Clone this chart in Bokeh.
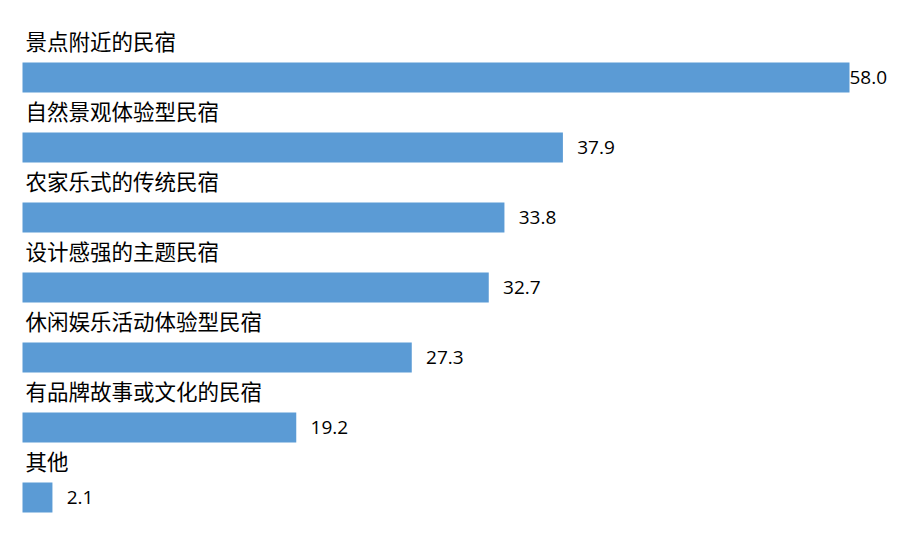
from bokeh.plotting import figure
from bokeh.models import Range1d, ColumnDataSource
from bokeh.core.properties import value
from bokeh.embed import file_html
from bokeh.resources import INLINE

categories = ["景点附近的民宿", "自然景观体验型民宿", "农家乐式的传统民宿", "设计感强的主题民宿",
              "休闲娱乐活动体验型民宿", "有品牌故事或文化的民宿", "其他"]
values = [58.0, 37.9, 33.8, 32.7, 27.3, 19.2, 2.1]
value_labels = ["58.0", "37.9", "33.8", "32.7", "27.3", "19.2", "2.1"]

pos = list(range(len(categories)))
xmax = max(values)
label_x = [min(v + 1.0, xmax) for v in values]

src = ColumnDataSource(dict(y=pos, v=values, cat=categories, lab=value_labels,
                            lx=label_x, zero=[0] * len(pos)))

W, H = 900, 534
px_per_unit = 827 / 58.0
x0 = -22 / px_per_unit
x1 = (W - 22) / px_per_unit
y_top = (0 - 77) / 70.0
y_bot = (H - 77) / 70.0

p = figure(width=W, height=H, output_backend="svg", toolbar_location=None,
           x_range=Range1d(x0, x1), y_range=Range1d(y_bot, y_top),
           min_border=0, min_border_left=0, min_border_right=0,
           min_border_top=0, min_border_bottom=0)
p.axis.visible = False
p.grid.visible = False
p.outline_line_color = None
p.background_fill_color = "white"
p.border_fill_color = "white"

p.hbar(y="y", left="zero", right="v", height=30 / 70.0, source=src,
       fill_color="#5B9BD5", line_color=None)

p.text(x="zero", y="y", text="cat", source=src, x_offset=3, y_offset=-37,
       text_font=value("Noto Sans CJK SC"), text_font_size="21.5px",
       text_baseline="middle", text_align="left", text_color="#000000")

p.text(x="lx", y="y", text="lab", source=src, x_offset=0, y_offset=0,
       text_font=value("Open Sans"), text_font_size="19px",
       text_baseline="middle", text_align="left", text_color="#000000")

open("out.html", "w").write(file_html(p, INLINE))
